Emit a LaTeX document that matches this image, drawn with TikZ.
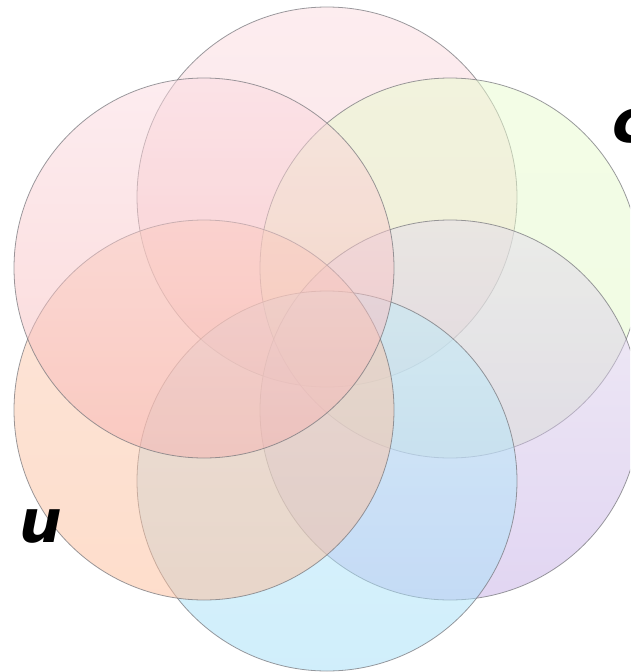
\documentclass[tikz,border=0pt]{standalone}
\usepackage{fontspec}
\newfontfamily\labfont{DejaVu Sans}
\definecolor{topT}{RGB}{251,219,224}
\definecolor{topB}{RGB}{247,200,204}
\definecolor{ulT}{RGB}{251,218,225}
\definecolor{ulM}{RGB}{249,196,198}
\definecolor{ulB}{RGB}{245,178,176}
\definecolor{urT}{RGB}{232,251,206}
\definecolor{urB}{RGB}{226,249,199}
\definecolor{lrT}{RGB}{228,220,235}
\definecolor{lrB}{RGB}{196,172,230}
\definecolor{btT}{RGB}{192,236,250}
\definecolor{btB}{RGB}{162,222,248}
\definecolor{llT}{RGB}{250,205,180}
\definecolor{llB}{RGB}{253,188,152}
\definecolor{edge}{RGB}{120,120,125}
\pgfdeclareverticalshading{shtop}{100bp}{color(0bp)=(topB); color(25bp)=(topB); color(75bp)=(topT); color(100bp)=(topT)}
\pgfdeclareverticalshading{shul}{100bp}{color(0bp)=(ulB); color(25bp)=(ulB); color(48bp)=(ulM); color(75bp)=(ulT); color(100bp)=(ulT)}
\pgfdeclareverticalshading{shur}{100bp}{color(0bp)=(urB); color(25bp)=(urB); color(75bp)=(urT); color(100bp)=(urT)}
\pgfdeclareverticalshading{shlr}{100bp}{color(0bp)=(lrB); color(25bp)=(lrB); color(75bp)=(lrT); color(100bp)=(lrT)}
\pgfdeclareverticalshading{shbt}{100bp}{color(0bp)=(btB); color(25bp)=(btB); color(75bp)=(btT); color(100bp)=(btT)}
\pgfdeclareverticalshading{shll}{100bp}{color(0bp)=(llB); color(25bp)=(llB); color(75bp)=(llT); color(100bp)=(llT)}
\tikzset{
  ring/.style={circle, minimum size=380pt, inner sep=0pt, draw=edge, line width=0.8pt, draw opacity=0.75, fill opacity=0.5},
  lab/.style={inner sep=0pt, anchor=base west, font=\labfont\bfseries\itshape\fontsize{60}{60}\selectfont}
}
\begin{document}
\begin{tikzpicture}[x=1pt,y=-1pt]
\useasboundingbox (0,0) rectangle (630,672);
\clip (0,0) rectangle (630,672);
\node[ring, shading=shtop] (ctop) at (327,197) {};
\node[ring, shading=shur] (cur) at (450,268) {};
\node[ring, shading=shlr] (clr) at (450,410) {};
\node[ring, shading=shbt] (cbt) at (327,481) {};
\node[ring, shading=shll] (cll) at (204,410) {};
\node[ring, shading=shul] (cul) at (204,268) {};
\node[lab] (lu) at (19,542) {u};
\node[lab] (lc) at (612,142) {c};
\end{tikzpicture}
\end{document}
